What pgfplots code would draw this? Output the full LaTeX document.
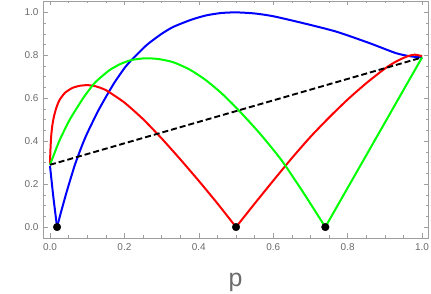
\documentclass[border=0pt]{standalone}
\usepackage{fontspec}
\setmainfont{Liberation Sans}
\usepackage{pgfplots}
\pgfplotsset{compat=1.18}
\definecolor{framegray}{gray}{0.62}
\definecolor{labelgray}{gray}{0.42}
\begin{document}
\begin{tikzpicture}
\useasboundingbox (0,0) rectangle (431bp,294bp);
\begin{axis}[
  at={(43bp,56bp)}, anchor=south west,
  scale only axis, width=385bp, height=237bp,
  xmin=-0.0188, xmax=1.016, ymin=-0.051, ymax=1.053,
  xtick={0,0.2,0.4,0.6,0.8,1}, ytick={0,0.2,0.4,0.6,0.8,1},
  minor tick num=3,
  tick align=inside,
  major tick length=4.5bp, minor tick length=2.5bp,
  axis line style={framegray, line width=0.8bp},
  every tick/.style={framegray, line width=0.6bp},
  tick label style={font=\fontsize{10}{12}\selectfont, text=labelgray},
  xticklabel style={yshift=-2bp},
  yticklabel style={xshift=-1bp},
  /pgf/number format/.cd, fixed, fixed zerofill, precision=1, assume math mode=true, /pgfplots/.cd,
  xlabel={p},
  every axis x label/.style={at={(axis description cs:0.5,0)}, anchor=base, yshift=-48bp, font=\fontsize{25}{30}\selectfont, text=labelgray},
  clip=true,
]
% blue
\addplot[blue, line width=2bp, smooth, tension=0.4] coordinates {
(0,0.285) (0.009,0.14) (0.019,0)};
\addplot[blue, line width=2bp, smooth, tension=0.4] coordinates {
(0.019,0) (0.03,0.072) (0.045,0.165) (0.066,0.285) (0.085,0.375) (0.1,0.437) (0.13,0.543)
(0.157,0.626) (0.174,0.675) (0.2,0.74) (0.219,0.778) (0.26,0.848) (0.3,0.9) (0.331,0.932)
(0.38,0.966) (0.42,0.986) (0.46,0.997) (0.5,1.0) (0.55,0.995) (0.6,0.982) (0.68,0.95)
(0.77,0.91) (0.86,0.856) (0.93,0.81) (0.97,0.795) (1.0,0.79)};
% red
\addplot[red, line width=2bp, smooth, tension=0.35] coordinates {
(0,0.295) (0.001,0.35) (0.003,0.42) (0.006,0.47) (0.01,0.51) (0.016,0.55) (0.025,0.59)
(0.04,0.625) (0.06,0.648) (0.08,0.658) (0.1,0.661) (0.12,0.657) (0.15,0.638) (0.2,0.58)
(0.25,0.503) (0.3,0.413) (0.35,0.316) (0.4,0.215) (0.45,0.11) (0.5,0)};
\addplot[red, line width=2bp, smooth, tension=0.4] coordinates {
(0.5,0) (0.55,0.109) (0.6,0.216) (0.65,0.321) (0.7,0.42) (0.75,0.51) (0.8,0.594)
(0.85,0.67) (0.9,0.738) (0.93,0.771) (0.96,0.795) (0.98,0.803) (1.0,0.796)};
% green
\addplot[green, line width=2bp, smooth, tension=0.4] coordinates {
(0,0.29) (0.01,0.335) (0.026,0.405) (0.053,0.50) (0.089,0.60) (0.111,0.652) (0.125,0.68)
(0.16,0.731) (0.19,0.76) (0.219,0.778) (0.2545,0.786) (0.29,0.783) (0.331,0.768)
(0.375,0.734) (0.416,0.688) (0.46,0.625) (0.505,0.548) (0.564,0.436) (0.622,0.312)
(0.68,0.163) (0.74,0)};
\addplot[green, line width=2bp] coordinates {
(0.74,0) (0.87,0.395) (1.0,0.79)};
% dashed
\addplot[black, line width=1.9bp, dash pattern=on 6bp off 3bp] coordinates {
(0,0.29) (1,0.79)};
% zeros
\addplot[only marks, mark=*, mark size=3.8bp, black] coordinates {
(0.019,0) (0.5,0) (0.74,0)};
\end{axis}
\end{tikzpicture}
\end{document}
